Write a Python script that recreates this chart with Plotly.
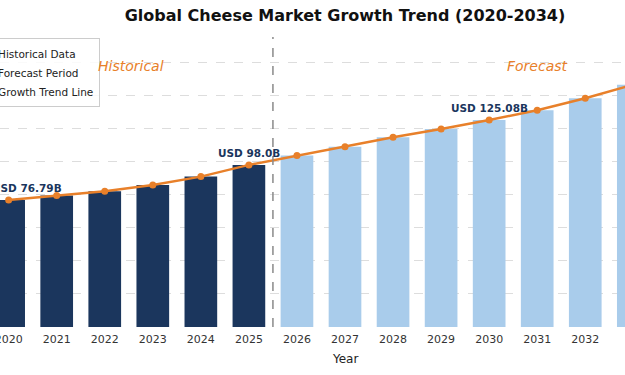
import plotly.graph_objects as go

# ---- data ----
hist_years = [2020, 2021, 2022, 2023, 2024, 2025]
hist_values = [76.79, 79.5, 82.1, 85.9, 90.9, 98.0]
fc_years = [2026, 2027, 2028, 2029, 2030, 2031, 2032, 2033]
fc_values = [103.6, 109.0, 114.7, 119.7, 125.08, 131.0, 138.3, 146.5]
label_years = [2020, 2025, 2030]
label_texts = ["USD 76.79B", "USD 98.0B", "USD 125.08B"]
label_values = [76.79, 98.0, 125.08]
tick_years = list(range(2020, 2034))

NAVY = "#1B365D"
LIGHT = "#A9CCEB"
ORANGE = "#E8802A"
FONT = "DejaVu Sans"

all_years = hist_years + fc_years
all_values = hist_values + fc_values

fig = go.Figure()
fig.add_trace(go.Bar(x=hist_years, y=hist_values, name="Historical Data",
                     marker=dict(color=NAVY, line=dict(width=0)), width=0.68))
fig.add_trace(go.Bar(x=fc_years, y=fc_values, name="Forecast Period",
                     marker=dict(color=LIGHT, line=dict(width=0)), width=0.68))
fig.add_trace(go.Scatter(x=all_years, y=all_values, name="Growth Trend Line",
                         mode="lines+markers",
                         line=dict(color=ORANGE, width=2.5),
                         marker=dict(color=ORANGE, size=7)))

# divider between history and forecast
fig.add_vline(x=2025.5, line=dict(color="#8a8a8a", width=1.5, dash="dash"))

annotations = []
for i, (yr, txt, v) in enumerate(zip(label_years, label_texts, label_values)):
    annotations.append(dict(x=yr, y=v, xref="x", yref="y", text=f"<b>{txt}</b>",
                            showarrow=False, yanchor="middle", yshift=12,
                            xshift=18 if i == 0 else 0,
                            font=dict(family=FONT, size=10.5, color=NAVY)))
annotations.append(dict(x=2022.55, y=158, xref="x", yref="y", text="<i>Historical</i>",
                        showarrow=False, font=dict(family=FONT, size=14, color=ORANGE)))
annotations.append(dict(x=2031.0, y=158, xref="x", yref="y", text="<i>Forecast</i>",
                        showarrow=False, font=dict(family=FONT, size=14, color=ORANGE)))
annotations.append(dict(x=345 / 625, y=-0.11, xref="paper", yref="paper", text="Year",
                        showarrow=False, yanchor="middle",
                        font=dict(family=FONT, size=12, color="#222")))

fig.update_layout(
    width=625, height=375,
    margin=dict(l=0, r=0, t=37, b=48, autoexpand=False),
    paper_bgcolor="white", plot_bgcolor="white",
    title=dict(text="<b>Global Cheese Market Growth Trend (2020-2034)</b>",
               x=345 / 625, xanchor="center", y=1 - 15.5 / 375, yanchor="middle",
               font=dict(family=FONT, size=16, color="#111")),
    font=dict(family=FONT),
    barmode="overlay",
    showlegend=True,
    legend=dict(x=-43 / 625, xanchor="left", y=0.995, yanchor="top",
                bgcolor="rgba(255,255,255,0.85)", bordercolor="#cccccc", borderwidth=1,
                font=dict(family=FONT, size=10.5, color="#222"),
                traceorder="normal"),
    annotations=annotations,
)
fig.update_xaxes(range=[2019.82, 2032.827], tickvals=tick_years,
                 ticktext=[str(t) for t in tick_years],
                 tickfont=dict(family=FONT, size=11, color="#333"),
                 ticklabeloverflow="allow", ticklabelstandoff=4,
                 showgrid=False, zeroline=False, showline=False, ticks="")
fig.update_yaxes(range=[0, 175.3], dtick=20, showticklabels=False,
                 showgrid=True, gridcolor="#dddddd", gridwidth=0.8, griddash="dash",
                 zeroline=False, showline=False, ticks="")

fig.write_html("out.html", config={"displayModeBar": False},
               post_script="document.body.style.margin='0';document.body.style.overflow='hidden';")
